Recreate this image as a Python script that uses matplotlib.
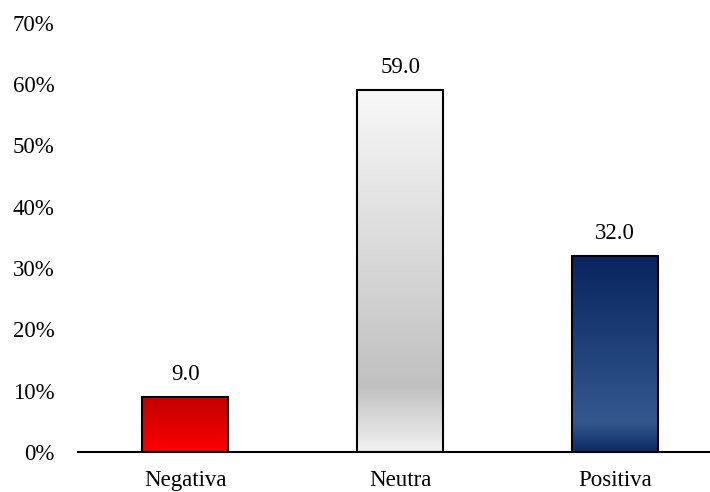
import numpy as np
import matplotlib
matplotlib.use('Agg')
import matplotlib.pyplot as plt
from matplotlib.colors import LinearSegmentedColormap
from matplotlib.ticker import FuncFormatter

categories = ['Negativa', 'Neutra', 'Positiva']
values = [9.0, 59.0, 32.0]
y_ticks = [0, 10, 20, 30, 40, 50, 60, 70]

# gradient stops top -> bottom for each bar
gradients = [
    [(0.0, '#c00000'), (1.0, '#ff0000')],
    [(0.0, '#f8f8f8'), (0.82, '#c0c0c0'), (1.0, '#f2f2f2')],
    [(0.0, '#082460'), (0.85, '#33598f'), (1.0, '#0c2b66')],
]

plt.rcParams['font.family'] = ['Liberation Serif', 'DejaVu Serif']

fig = plt.figure(figsize=(7.10, 4.92), dpi=100)
ax = fig.add_axes([78 / 710, 40 / 492, 644.5 / 710, 429.5 / 492])

x = np.arange(len(categories))
bars = ax.bar(x, values, width=0.4, facecolor='none', edgecolor='black',
              linewidth=1.5, zorder=3)

for bar, stops in zip(bars, gradients):
    cmap = LinearSegmentedColormap.from_list('g', stops)
    grad = np.linspace(0, 1, 256).reshape(-1, 1)
    x0, y0 = bar.get_x(), bar.get_y()
    w, h = bar.get_width(), bar.get_height()
    im = ax.imshow(grad, cmap=cmap, aspect='auto',
                   extent=[x0, x0 + w, y0, y0 + h], origin='upper', zorder=2)
    im.set_clip_path(bar)

for xi, v in zip(x, values):
    ax.text(xi, v + 1.9, f'{v:.1f}', ha='center', va='bottom', fontsize=16.5)

ax.set_xlim(-0.5, 2.5)
ax.set_ylim(0, 70)
ax.set_yticks(y_ticks)
ax.yaxis.set_major_formatter(FuncFormatter(lambda v, p: f'{v:.0f}%'))
ax.set_xticks(x)
ax.set_xticklabels(categories)
ax.tick_params(axis='both', length=0, labelsize=16.5)
ax.tick_params(axis='y', pad=17)
ax.tick_params(axis='x', pad=13)

for s in ['top', 'right', 'left']:
    ax.spines[s].set_visible(False)
ax.spines['bottom'].set_linewidth(1.5)
ax.spines['bottom'].set_zorder(4)

fig.savefig('out.png', dpi=100)
